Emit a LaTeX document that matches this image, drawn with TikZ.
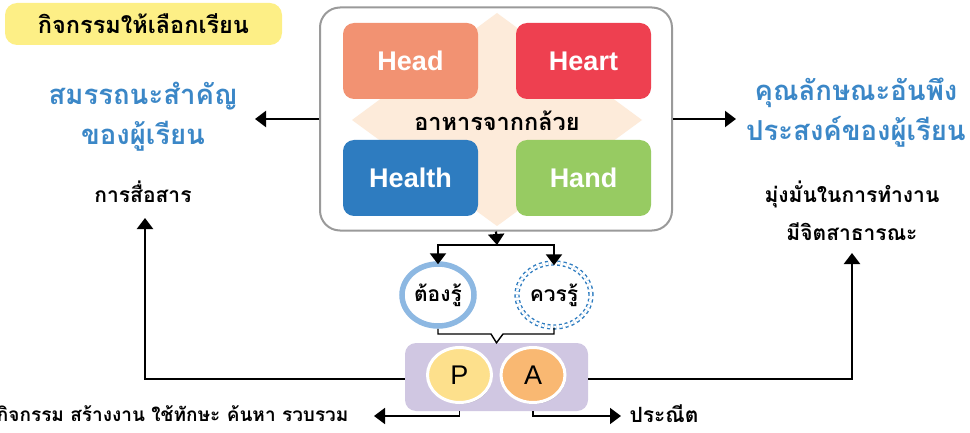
\documentclass[tikz,border=0pt]{standalone}
\usepackage{fontspec}
\setmainfont{Liberation Sans}
\newfontfamily\thai[Script=Thai]{Loma}
\usetikzlibrary{arrows.meta,shapes.geometric,shadows}
\definecolor{ybox}{HTML}{FDEF86}
\definecolor{tblue}{HTML}{3B87C7}
\definecolor{peach}{HTML}{FDEBDA}
\definecolor{chead}{HTML}{F29272}
\definecolor{cheart}{HTML}{EE4050}
\definecolor{chealth}{HTML}{2E7CC0}
\definecolor{chand}{HTML}{97CB62}
\definecolor{lblue}{HTML}{8DB8E2}
\definecolor{dblue}{HTML}{2E7CC0}
\definecolor{lav}{HTML}{D0C7E2}
\definecolor{cp}{HTML}{FDE08C}
\definecolor{ca}{HTML}{F9B872}
\definecolor{gborder}{HTML}{9A9A9A}
\begin{document}
\begin{tikzpicture}[x=1pt,y=-1pt,
  hbox/.style={rounded corners=11pt, minimum width=135pt, minimum height=76pt, inner sep=0pt,
    text=white, font=\fontsize{27}{30}\selectfont\bfseries},
  arr/.style={line width=2.2pt, -{Triangle[length=11pt,width=16pt]}},
  thin/.style={line width=1.4pt},
  bluet/.style={text=tblue, font=\thai\fontsize{27.5}{40}\selectfont\bfseries, align=center},
  blackt/.style={text=black, font=\thai\fontsize{21}{38}\selectfont\bfseries, align=center},
  circ/.style={ellipse, minimum width=64pt, minimum height=55pt, inner sep=0pt, draw=white, line width=3pt,
    drop shadow={shadow xshift=1pt, shadow yshift=-1.5pt, opacity=0.35},
    font=\fontsize{27}{28}\selectfont}
]
\useasboundingbox (0,0) rectangle (970,433);
% title
\node[fill=ybox, rounded corners=12pt, minimum width=277pt, minimum height=42pt, inner sep=0pt,
  font=\thai\fontsize{23.5}{26}\selectfont\bfseries] (title) at (143.5,24) {กิจกรรมให้เลือกเรียน};
% main box
\node[draw=gborder, line width=2pt, rounded corners=20pt, fill=white, minimum width=352pt,
  minimum height=223pt, inner sep=0pt] (main) at (496,119) {};
\fill[peach] (497,13) -- (642,120) -- (497,226) -- (352,120) -- cycle;
\node[hbox, fill=chead] (head) at (410.5,61) {Head};
\node[hbox, fill=cheart] (heart) at (583.5,61) {Heart};
\node[hbox, fill=chealth] (health) at (410.5,178) {Health};
\node[hbox, fill=chand] (hand) at (583.5,178) {Hand};
\node[font=\thai\fontsize{23.5}{26}\selectfont\bfseries] (food) at (497,121) {อาหารจากกล้วย};
% left texts
\node[bluet] (comp) at (143,117) {สมรรถนะสำคัญ\\ของผู้เรียน};
\node[blackt] (comm) at (143,192) {การสื่อสาร};
% right texts
\node[bluet] (attr) at (856,113) {คุณลักษณะอันพึง\\ประสงค์ของผู้เรียน};
\node[blackt] (att2) at (852,211) {มุ่งมั่นในการทำงาน\\มีจิตสาธารณะ};
% arrows from main
\coordinate (lt) at (255,119);
\coordinate (rt) at (736,119);
\draw[arr] (main.west) -- (lt);
\draw[arr] (main.east) -- (rt);
% know circles
\node[ellipse, draw=lblue, line width=5.5pt, minimum width=72pt, minimum height=62pt, inner sep=0pt,
  font=\thai\fontsize{21}{24}\selectfont\bfseries] (must) at (438,295) {ต้องรู้};
\node[ellipse, draw=dblue, dashed, double=white, double distance=2.5pt, line width=1.4pt,
  minimum width=74pt, minimum height=64pt, inner sep=0pt,
  font=\thai\fontsize{21}{24}\selectfont\bfseries] (should) at (554,295) {ควรรู้};
\coordinate (j) at (497,245);
\draw[arr] (main.south) -- (j);
\draw[arr] (j) -| ([yshift=-3pt]must.north);
\draw[arr] (j) -| ([yshift=-3pt]should.north);
% PA box
\node[fill=lav, rounded corners=11pt, minimum width=183pt, minimum height=68pt, inner sep=0pt] (pa) at (496.5,377) {};
\node[circ, fill=cp] (p) at (459.5,375) {P};
\node[circ, fill=ca] (a) at (533,375) {A};
\coordinate (n1) at (491,334);
\coordinate (n2) at (503,334);
\draw[thin] (must.south) |- (n1) -- (pa.north) -- (n2) -| (should.south);
% side lines
\coordinate (lu) at (145,218);
\coordinate (ru) at (852,253);
\draw[arr] (pa.west |- 0,379) -| (lu);
\draw[arr] (pa.east |- 0,379) -| (ru);
% bottom
\coordinate (lb) at (374,416);
\coordinate (rb) at (621,416);
\draw[arr, line width=1.6pt] (p.south |- pa.south) |- (lb);
\draw[arr, line width=1.6pt] (a.south |- pa.south) |- (rb);
\node[anchor=east, blackt, font=\thai\fontsize{19}{38}\selectfont\bfseries] (acts) at (352,414) {กิจกรรม สร้างงาน ใช้ทักษะ ค้นหา รวบรวม};
\node[anchor=west, blackt] (fine) at (626,414) {ประณีต};
\end{tikzpicture}
\end{document}
